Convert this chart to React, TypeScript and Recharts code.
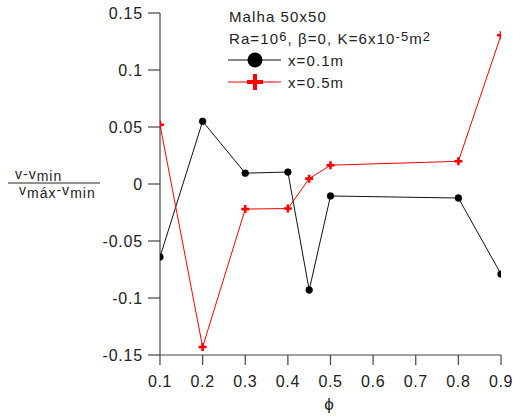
import React from "react";
import { LineChart, Line, XAxis, YAxis } from "recharts";

// phi values and normalised velocity for the two probe positions
const phiValues = [0.1, 0.2, 0.3, 0.4, 0.45, 0.5, 0.8, 0.9];
const velAt01 = [-0.064, 0.055, 0.0095, 0.0105, -0.093, -0.0105, -0.0123, -0.079];
const velAt05 = [0.052, -0.143, -0.022, -0.0215, 0.0047, 0.0165, 0.0199, 0.1305];

const xTicks = [0.1, 0.2, 0.3, 0.4, 0.5, 0.6, 0.7, 0.8, 0.9];
const yTicks = [-0.15, -0.1, -0.05, 0, 0.05, 0.1, 0.15];

const FONT = "'Liberation Sans', Arial, sans-serif";
const AXIS = "#444";

const data = phiValues.map((p, i) => ({ phi: p, a: velAt01[i], b: velAt05[i] }));

function YTick(props: any) {
  const { x, y, payload } = props;
  return (
    <text x={x} y={y} dy="0.36em" textAnchor="end" fontFamily={FONT} fontSize={16} fill="#222" style={{ letterSpacing: "0.8px" }}>
      {String(payload.value)}
    </text>
  );
}

function XTick(props: any) {
  const { x, y, payload } = props;
  return (
    <text x={x} y={y + 20} textAnchor="middle" fontFamily={FONT} fontSize={16} fill="#222" style={{ letterSpacing: "0.6px" }}>
      {String(payload.value)}
    </text>
  );
}

function PlusDot(props: any) {
  const { cx, cy } = props;
  if (cx == null || cy == null) return null;
  return (
    <path
      d={`M${cx - 4},${cy}H${cx + 4}M${cx},${cy - 4}V${cy + 4}`}
      stroke="#ff0000"
      strokeWidth={2.6}
      fill="none"
    />
  );
}

export default function App() {
  return (
    <div style={{ position: "absolute", left: 0, top: 0, width: 515, height: 416, background: "#fff" }}>
      <LineChart width={515} height={416} data={data} margin={{ top: 13, right: 14, bottom: 31, left: 100 }}>
        <XAxis
          dataKey="phi"
          type="number"
          domain={[0.1, 0.9]}
          ticks={xTicks}
          height={30}
          tickSize={10}
          tickMargin={2}
          stroke={AXIS}
          strokeWidth={1.2}
          tick={<XTick />}
          allowDataOverflow
        />
        <YAxis
          type="number"
          domain={[-0.15, 0.15]}
          ticks={yTicks}
          width={60}
          tickSize={12}
          tickMargin={5}
          stroke={AXIS}
          strokeWidth={1.2}
          tick={<YTick />}
          allowDataOverflow
        />
        <Line
          dataKey="a"
          type="linear"
          stroke="#111"
          strokeWidth={1}
          dot={{ r: 3.4, fill: "#000", stroke: "#000", strokeWidth: 0.5 }}
          isAnimationActive={false}
        />
        <Line
          dataKey="b"
          type="linear"
          stroke="#ff0000"
          strokeWidth={1}
          dot={<PlusDot />}
          isAnimationActive={false}
        />
      </LineChart>

      {/* legend, y label and x label drawn over the chart */}
      <svg width={515} height={416} style={{ position: "absolute", left: 0, top: 0, pointerEvents: "none" }}>
        <g fontFamily={FONT} fill="#222" style={{ letterSpacing: "1.1px" }}>
          <text x={229} y={22} fontSize={15}>Malha 50x50</text>
          <text x={229} y={44} fontSize={15}>
            Ra=10<tspan dy={-3.5} fontSize={13}>6</tspan>
            <tspan dy={3.5}>, β=0, K=6x10</tspan>
            <tspan dy={-3.5} fontSize={13}>-5</tspan>
            <tspan dy={3.5}>m</tspan>
            <tspan dy={-3.5} fontSize={13}>2</tspan>
          </text>
          <text x={288} y={66} fontSize={15}>x=0.1m</text>
          <text x={288} y={88} fontSize={15}>x=0.5m</text>
        </g>
        <line x1={228} x2={281} y1={60} y2={60} stroke="#111" strokeWidth={1} />
        <circle cx={255} cy={60} r={7.5} fill="#000" />
        <line x1={228} x2={281} y1={82} y2={82} stroke="#ff0000" strokeWidth={1} />
        <path d="M247,82H263M255,74V90" stroke="#ff0000" strokeWidth={4} fill="none" />

        <g fontFamily={FONT} fill="#222" fontSize={14} style={{ letterSpacing: "1px" }}>
          <text x={15} y={179}>
            v-v<tspan dy={2}>min</tspan>
          </text>
          <line x1={8} x2={100} y1={183} y2={183} stroke="#222" strokeWidth={1} />
          <text x={19} y={195}>
            v<tspan dy={2.5}>máx</tspan>
            <tspan dy={-2.5}>-v</tspan>
            <tspan dy={2.5}>min</tspan>
          </text>
        </g>
        <text x={329} y={410} textAnchor="middle" fontFamily={FONT} fontSize={17} fill="#222">ϕ</text>
      </svg>
    </div>
  );
}
